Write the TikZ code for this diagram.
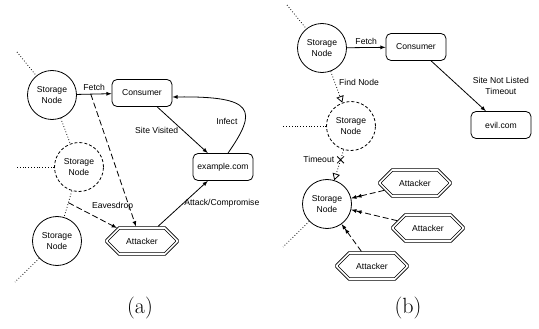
\documentclass[tikz,border=0pt]{standalone}
\usepackage{fontspec}
\setsansfont{Liberation Sans}
\usepackage{tikz}
\usetikzlibrary{arrows,shapes,positioning}

\begin{document}
\begin{tikzpicture}[x=1pt, y=-1pt, line width=0.8pt, >=latex,
    every node/.style={font=\sffamily\fontsize{8.6}{10.4}\selectfont},
    storage/.style={circle, draw, minimum size=49pt, inner sep=0pt, align=center},
    lost/.style={storage, dash pattern=on 3pt off 2pt},
    site/.style={draw, rounded corners=5pt, minimum width=60pt, minimum height=27pt, inner sep=2pt},
    attacker/.style={draw, double, double distance=1.6pt, chamfered rectangle,
        chamfered rectangle xsep=12pt, chamfered rectangle ysep=8pt,
        minimum width=70pt, minimum height=26pt,
        inner sep=1pt, outer sep=1.6pt},
    link/.style={dotted},
    sneak/.style={dash pattern=on 6pt off 3pt},
    lbl/.style={inner sep=1pt},
    caption/.style={font=\rmfamily\fontsize{22}{26}\selectfont}]
            \useasboundingbox (0,0) rectangle (539,329);

            % (a) infected site
            \node[storage] (storeA) at (52,95) {Storage\\Node};
            \node[site] (consA) at (142,93) {Consumer};
            \node[site] (exA) at (223,167) {example.com};
            \node[lost] (lostA) at (79,167) {Storage\\Node};
            \node[storage] (farA) at (57,241) {Storage\\Node};
            \node[attacker] (atkA) at (142,241) {Attacker};

            \coordinate (stubA1) at (17,52);
            \coordinate (stubA2) at (15,167);
            \coordinate (stubA3) at (15,282);
            \draw[link] (stubA1) -- (storeA);
            \draw[link] (storeA) -- (lostA);
            \draw[link] (lostA) -- (stubA2);
            \draw[link] (lostA) -- coordinate[pos=0.45] (tapB) (farA);
            \draw[link] (farA) -- (stubA3);

            \draw[->] (storeA) -- node[lbl, above=2pt] {Fetch} coordinate[pos=0.4] (tapA) (consA);
            \draw[->] (consA) -- node[lbl, left, xshift=-3pt] {Site Visited} (exA);
            \draw[->] ([xshift=5pt]exA.north) .. controls (258,110) and (255,96) .. node[lbl, pos=0.3, left, xshift=-6pt] {Infect} ([yshift=-4pt]consA.east);
            \draw[->] (atkA) -- node[lbl, right] {Attack/Compromise} (exA);
            \draw[->, sneak] (tapA) -- ([xshift=-6pt]atkA.north);
            \draw[->, sneak] (tapB) -- node[lbl, anchor=south west, xshift=-2pt, yshift=4pt] {Eavesdrop} (atkA);

            % (b) site not listed
            \node[storage] (storeB) at (322,48) {Storage\\Node};
            \node[site] (consB) at (416,47) {Consumer};
            \node[site] (evil) at (501,125) {evil.com};
            \node[lost] (lostB) at (351,126) {Storage\\Node};
            \node[storage] (victim) at (327,204) {Storage\\Node};
            \node[attacker] (atkB1) at (415,183) {Attacker};
            \node[attacker] (atkB2) at (428,228) {Attacker};
            \node[attacker] (atkB3) at (372,266) {Attacker};

            \coordinate (stubB1) at (287,5);
            \coordinate (stubB2) at (282,126);
            \coordinate (stubB3) at (283,247);
            \draw[link] (stubB1) -- (storeB);
            \draw[link] (lostB) -- (stubB2);
            \draw[link] (victim) -- (stubB3);

            \draw[->] (storeB) -- node[lbl, above=2pt] {Fetch} (consB);
            \draw[->] (consB) -- node[lbl, right, xshift=13pt, align=center] {Site Not Listed\\Timeout} (evil);
            \draw[link, -open triangle 60] (storeB) -- node[lbl, pos=0.35, right, xshift=3pt] {Find Node} (lostB);
            \draw[link, -open triangle 60] (lostB) -- node[cross out, draw, solid, minimum size=6pt, inner sep=0pt, pos=0.33] (cut) {} node[lbl, pos=0.33, left, xshift=-5pt] {Timeout} (victim);
            \draw[->>, sneak] (atkB1) -- (victim);
            \draw[->>, sneak] (atkB2) -- (victim);
            \draw[->>, sneak] (atkB3) -- (victim);

            % captions
            \node[caption] (capA) at (140,308) {(a)};
            \node[caption] (capB) at (408,308) {(b)};
        \end{tikzpicture}
\end{document}
